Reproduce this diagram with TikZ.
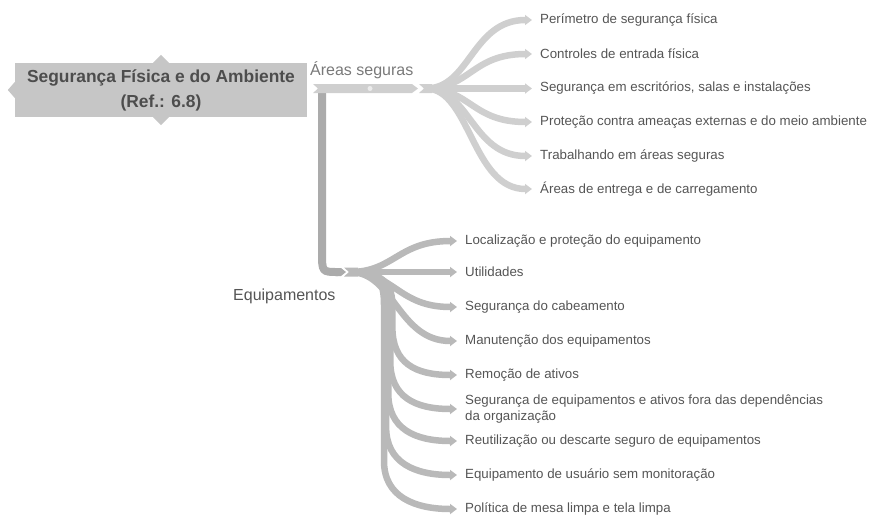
\documentclass[tikz,border=0pt]{standalone}
\usepackage{fontspec}
\setmainfont{Liberation Sans}
\usetikzlibrary{arrows.meta, positioning}
\definecolor{rootgray}{HTML}{C6C6C6}
\definecolor{titlegray}{HTML}{4D4D4D}
\definecolor{txtgray}{HTML}{555555}
\definecolor{lightband}{HTML}{CFCFCF}
\definecolor{darkband}{HTML}{ABABAB}
\definecolor{midband}{HTML}{B9B9B9}

\begin{document}
\begin{tikzpicture}[x=1pt, y=-1pt,
    leaf/.style={anchor=west, inner xsep=8pt, inner ysep=1pt, align=left, font=\fontsize{13.3}{16}\selectfont, text=txtgray},
    twig/.style={line width=6.5pt, -{Triangle[length=7pt, width=10pt]}},
    label/.style={anchor=west, inner sep=0pt, font=\fontsize{16}{19}\selectfont, text=#1}]

  \useasboundingbox (0,0) rectangle (875,515);

  % central topic
  \node[fill=rootgray, minimum width=292pt, minimum height=54pt, align=center,
        font=\bfseries\fontsize{17.4}{25}\selectfont, text=titlegray] (root) at (161,90)
        {Segurança Física e do Ambiente\\(Ref.: 6.8)};
  \fill[rootgray] ([xshift=-8pt]root.north) -- ([yshift=8pt]root.north) -- ([xshift=8pt]root.north) -- cycle;
  \fill[rootgray] ([xshift=-8pt]root.south) -- ([yshift=-8pt]root.south) -- ([xshift=8pt]root.south) -- cycle;
  \fill[rootgray] ([yshift=-8pt]root.west) -- ([xshift=-7pt]root.west) -- ([yshift=8pt]root.west) -- cycle;

  \coordinate (A) at (426,88.5);
  \coordinate (E) at (350,272);

  % main branches
  \draw[darkband, line width=8pt] (322,92) -- (322,252) .. controls (322,272) .. (338,272);
  \fill[darkband] (336,268) -- (341,268) -- (346,272) -- (341,276) -- (336,276) -- cycle;
  \fill[lightband] (313,84) -- (412,84) -- (418,88.5) -- (412,93) -- (313,93) -- (318,88.5) -- cycle;
  \fill[lightband] (419,84) -- (432,84) -- (432,93) -- (419,93) -- (424,88.5) -- cycle;
  \fill[white!92!black] (370,88.5) circle (2.5pt);
  \fill[midband] (344,267.5) -- (358,267.5) -- (358,276.5) -- (344,276.5) -- (349,272) -- cycle;

  \node[label=gray!95!black] (areas) at (310,70) {Áreas seguras};
  \node[label=txtgray] (equip) at (233,296) {Equipamentos};

  % Areas seguras
  \foreach \y/\txt [count=\i] in {20/Perímetro de segurança física,
      54/Controles de entrada física,
      {88.5/Segurança em escritórios, salas e instalações},
      122/Proteção contra ameaças externas e do meio ambiente,
      156/Trabalhando em áreas seguras,
      189/Áreas de entrega e de carregamento} {
    \node[leaf] (a\i) at (532,\y) {\txt};
    \draw[twig, lightband] (A) .. controls (470,88.5) and (472,\y) .. (a\i.west);
  }

  % Equipamentos
  \foreach \y/\txt [count=\i] in {241/Localização e proteção do equipamento,
      272/Utilidades,
      307/Segurança do cabeamento,
      341/Manutenção dos equipamentos,
      375/Remoção de ativos,
      409/Segurança de equipamentos e ativos fora das dependências\\da organização,
      441/Reutilização ou descarte seguro de equipamentos,
      475/Equipamento de usuário sem monitoração,
      509/Política de mesa limpa e tela limpa} {
    \node[leaf] (e\i) at (457,\y) {\txt};
    \ifnum\i>4
      \pgfmathsetmacro{\xv}{384+(509-\y)/16}
      \draw[twig, midband] (E) .. controls (378,272) and (\xv,280) .. (\xv,305)
        -- (\xv,\y-48) .. controls (\xv,\y-12) and (415,\y) .. (e\i.west);
    \else
      \draw[twig, midband] (E) .. controls (394,272) and (398,\y) .. (e\i.west);
    \fi
  }
\end{tikzpicture}
\end{document}
